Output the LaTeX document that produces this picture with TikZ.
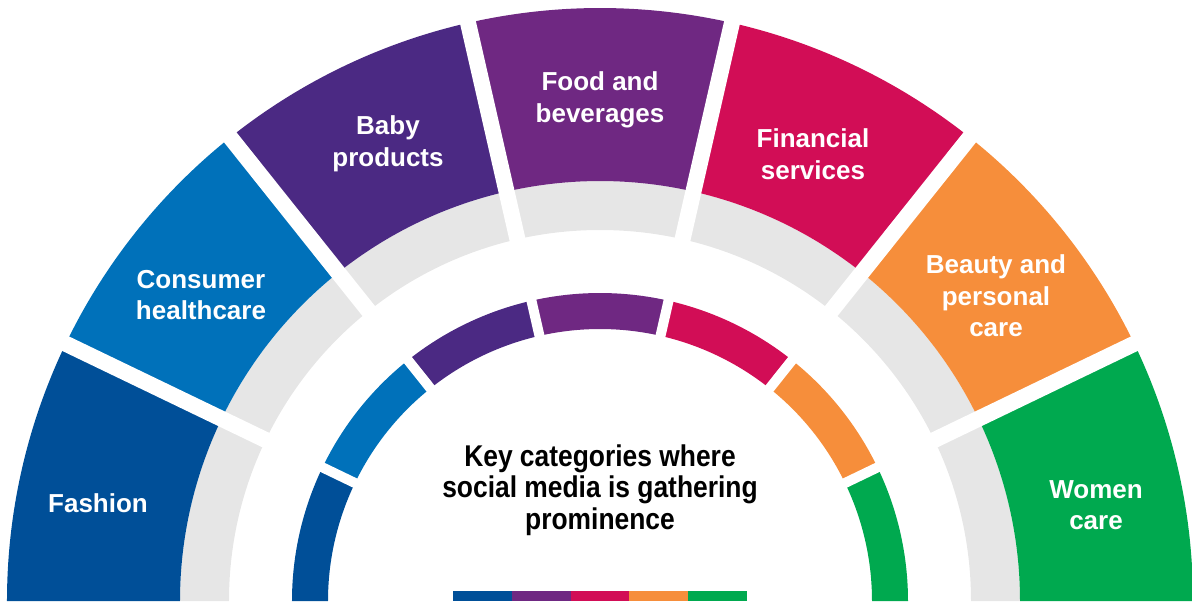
\documentclass[tikz,border=0pt]{standalone}
\usepackage{fontspec}
\setmainfont{Liberation Sans}
\newfontfamily\condfont{Liberation Sans}[FakeStretch=0.88]
\usetikzlibrary{positioning}
\definecolor{segfashion}{HTML}{004F98}
\definecolor{segconsumer}{HTML}{0071BA}
\definecolor{segbaby}{HTML}{4B2983}
\definecolor{segfood}{HTML}{6F2882}
\definecolor{segfinance}{HTML}{D20D56}
\definecolor{segbeauty}{HTML}{F68E3B}
\definecolor{segwomen}{HTML}{00A94F}
\definecolor{ringgray}{HTML}{E6E6E6}

\begin{document}
\begin{tikzpicture}[x=0.5pt, y=0.5pt,
  catlabel/.style={text=white, font=\fontsize{13}{15.8}\selectfont\bfseries, align=center},
  centertext/.style={text=black, font=\condfont\fontsize{15}{15.8}\selectfont\bfseries, align=center},
  gapouter/.style={white, line width=8pt},
  gapinner/.style={white, line width=5pt}]
\useasboundingbox (-600,0) rectangle (592,601);
\fill[ringgray] (180:371) arc[start angle=180, end angle=0, radius=371] -- (0:420) arc[start angle=0, end angle=180, radius=420] -- cycle;
\foreach \c [count=\i from 0] in {segfashion,segconsumer,segbaby,segfood,segfinance,segbeauty,segwomen} {
  \pgfmathsetmacro\a{180-\i*180/7}
  \pgfmathsetmacro\b{180-(\i+1)*180/7}
  \fill[\c] (\a:420) arc[start angle=\a, end angle=\b, radius=420] -- (\b:593) arc[start angle=\b, end angle=\a, radius=593] -- cycle;
  \fill[\c] (\a:272) arc[start angle=\a, end angle=\b, radius=272] -- (\b:308) arc[start angle=\b, end angle=\a, radius=308] -- cycle;
}
\foreach \k in {1,...,6} {
  \draw[gapouter] ({180-\k*180/7}:360) -- ({180-\k*180/7}:610);
  \draw[gapinner] ({180-\k*180/7}:262) -- ({180-\k*180/7}:318);
}
\node[catlabel] (fashion)  at (-502,98)  {Fashion};
\node[catlabel] (consumer) at (-399,306) {Consumer\\healthcare};
\node[catlabel] (baby)     at (-212,457) {Baby\\products};
\node[catlabel] (food)     at (0,501)    {Food and\\beverages};
\node[catlabel] (finance)  at (213,447)  {Financial\\services};
\node[catlabel] (beauty)   at (396,305)  {Beauty and\\personal\\care};
\node[catlabel] (women)    at (496,96)   {Women\\care};
\node[centertext] (title) at (0,111) {Key categories where\\social media is gathering\\prominence};
\foreach \c [count=\i from 0] in {segfashion,segfood,segfinance,segbeauty,segwomen}
  \fill[\c] ({-147+\i*58.8},0) rectangle ({-147+(\i+1)*58.8},10);
\end{tikzpicture}
\end{document}
